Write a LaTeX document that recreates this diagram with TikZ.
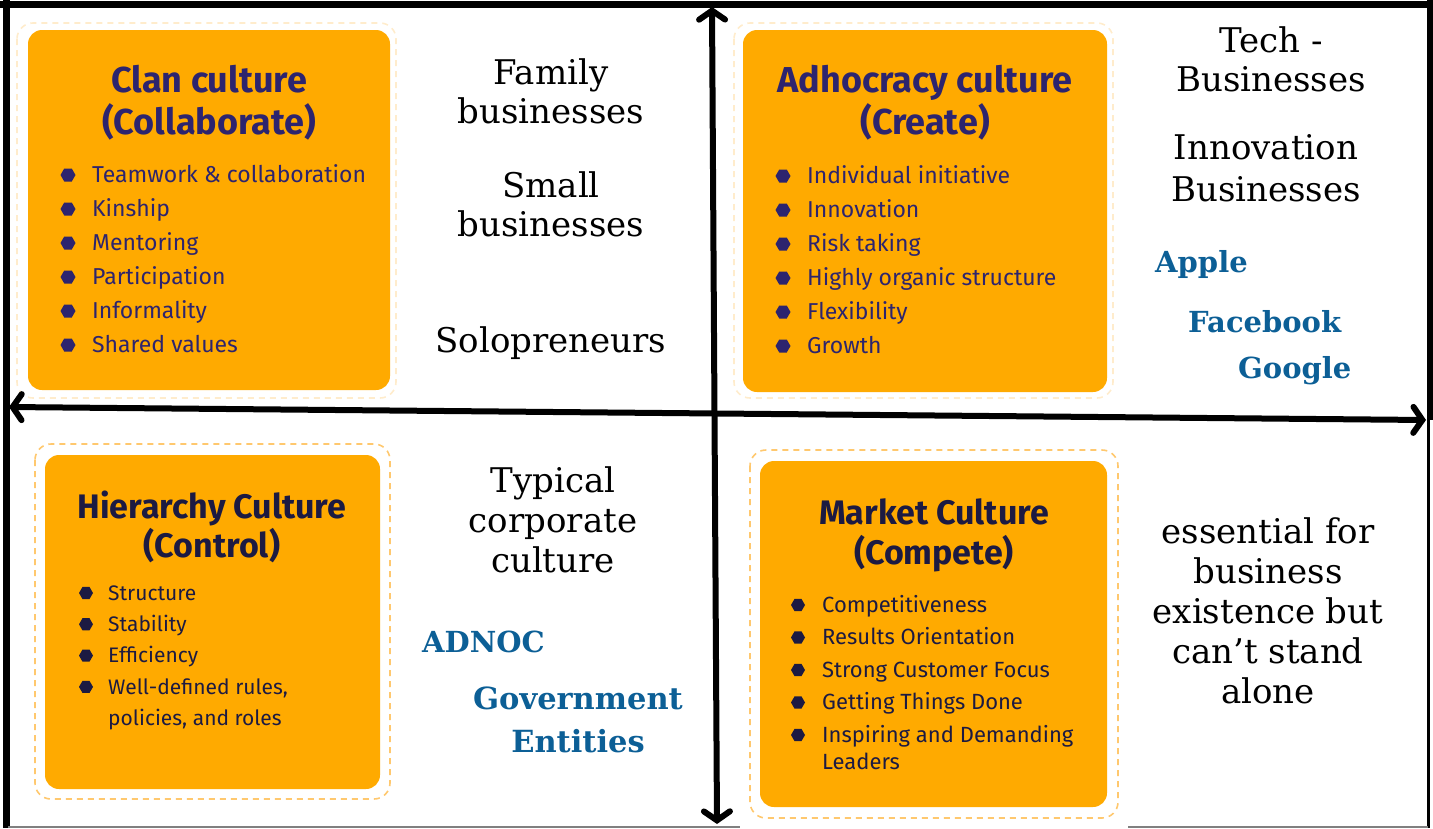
\documentclass[tikz,border=0pt]{standalone}
\usepackage{fontspec}
\setmainfont{DejaVu Serif}
\newfontfamily\boxfont{Fira Sans}
\usetikzlibrary{arrows.meta, shapes.geometric}
\definecolor{cultorange}{RGB}{255,170,0}
\definecolor{dashorange}{RGB}{255,200,110}
\definecolor{headnavy}{RGB}{45,36,110}
\definecolor{darknavy}{RGB}{28,26,66}
\definecolor{firmblue}{RGB}{12,95,150}

\begin{document}
\begin{tikzpicture}[x=1pt,y=-1pt,
    card/.style={fill=cultorange, rounded corners=14pt},
    halo/.style={dashed, dash pattern=on 6pt off 5pt, line width=1.6pt, rounded corners=16pt},
    heading/.style 2 args={font=\boxfont\bfseries\fontsize{#1}{#2}\selectfont, align=center},
    item/.style={font=\boxfont\fontsize{#1}{#1}\selectfont, anchor=base west, inner sep=0pt, yshift=-0.34*#1pt},
    dot/.style={regular polygon, regular polygon sides=6, inner sep=0pt, minimum size=15pt},
    note/.style={font=\fontsize{34}{39}\selectfont, align=center},
    firm/.style={font=\bfseries\fontsize{29}{43}\selectfont, text=firmblue, inner sep=0pt},
    axis/.style={line width=6pt, line cap=round,
        {Straight Barb[length=9pt,width=26pt,line cap=round]}-{Straight Barb[length=9pt,width=26pt,line cap=round]}}
]
\useasboundingbox (0,0) rectangle (1433,828);

% frame
\draw[line width=7pt] (0,4)--(1433,4);
\draw[line width=7pt] (6,0)--(6,828);
\draw[line width=6pt] (1430,0)--(1430,420);
\draw[line width=3pt] (1428,420)--(1428,828);
\draw[gray, line width=1.2pt] (8,827)--(740,827) (1128,827)--(1428,827);

% cards
\draw[halo, draw=dashorange!35] (17,23) rectangle (396,398);
\fill[card] (28,30) rectangle (390,390);
\draw[halo, draw=dashorange!35] (734,23) rectangle (1113,398);
\fill[card] (743,30) rectangle (1107,392);
\draw[halo, draw=dashorange] (35,444) rectangle (390,799);
\fill[card] (45,455) rectangle (380,789);
\draw[halo, draw=dashorange] (750,450) rectangle (1118,818);
\fill[card] (760,461) rectangle (1107,807);

% clan
\node[heading={36}{42}, text=headnavy] (clan-title) at (209,103) {Clan culture\\(Collaborate)};
\foreach \t [count=\i] in {Teamwork \& collaboration,Kinship,Mentoring,Participation,Informality,Shared values}{
    \node[dot, fill=headnavy] (clan-dot\i) at (68,{175+34*(\i-1)}) {};
    \node[item=23, text=headnavy] (clan-item\i) at (92,{175+34*(\i-1)}) {\t};
}

% adhocracy
\node[heading={36}{42}, text=headnavy] (adho-title) at (925,103) {Adhocracy culture\\(Create)};
\foreach \t [count=\i] in {Individual initiative,Innovation,Risk taking,Highly organic structure,Flexibility,Growth}{
    \node[dot, fill=headnavy] (adho-dot\i) at (783,{176+34*(\i-1)}) {};
    \node[item=23, text=headnavy] (adho-item\i) at (807,{176+34*(\i-1)}) {\t};
}

% hierarchy
\node[heading={34}{39}, text=darknavy] (hier-title) at (212,527) {Hierarchy Culture\\(Control)};
\foreach \t [count=\i] in {Structure,Stability,Efficiency,{Well-defined rules,}}{
    \node[dot, fill=darknavy, minimum size=14pt] (hier-dot\i) at (86,{593+31.3*(\i-1)}) {};
    \node[item=21, text=darknavy] (hier-item\i) at (108,{593+31.3*(\i-1)}) {\t};
}
\node[item=21, text=darknavy] (hier-item5) at (108,718) {policies, and roles};

% market
\node[heading={34}{40}, text=darknavy] (mark-title) at (934,535) {Market Culture\\(Compete)};
\foreach \t [count=\i] in {Competitiveness,Results Orientation,Strong Customer Focus,Getting Things Done,Inspiring and Demanding}{
    \node[dot, fill=darknavy, minimum size=14pt] (mark-dot\i) at (798,{605+32.5*(\i-1)}) {};
    \node[item=22, text=darknavy] (mark-item\i) at (822,{605+32.5*(\i-1)}) {\t};
}
\node[item=22, text=darknavy] (mark-item6) at (822,762) {Leaders};

% examples beside each card
\node[note] (family) at (551,91) {Family\\businesses};
\node[note] (small) at (551,204) {Small\\businesses};
\node[note] (solo) at (551,343) {Solopreneurs};
\node[note] (tech) at (1271,59) {Tech -\\Businesses};
\node[note, font=\fontsize{34}{42}\selectfont] (innov) at (1266,168) {Innovation\\Businesses};
\node[firm, anchor=base west] (apple) at (1155,272) {Apple};
\node[firm, anchor=base west] (facebook) at (1188,332) {Facebook};
\node[firm, anchor=base west] (google) at (1238,378) {Google};
\node[note, font=\fontsize{34}{40}\selectfont] (corporate) at (553,520) {Typical\\corporate\\culture};
\node[firm, anchor=base west] (adnoc) at (422,652) {ADNOC};
\node[firm, align=center, font=\bfseries\fontsize{30.5}{43}\selectfont] (gov) at (578,720) {Government\\Entities};
\node[note, font=\fontsize{34}{40}\selectfont] (essential) at (1268,611) {essential for\\business\\existence but\\can’t stand\\alone};

% axes
\coordinate (west end) at (9,407);
\coordinate (east end) at (1426,420);
\coordinate (north end) at (712,7);
\coordinate (south end) at (717,824);
\draw[axis] (west end) -- (east end);
\draw[axis] (south end) -- (north end);
\end{tikzpicture}
\end{document}
